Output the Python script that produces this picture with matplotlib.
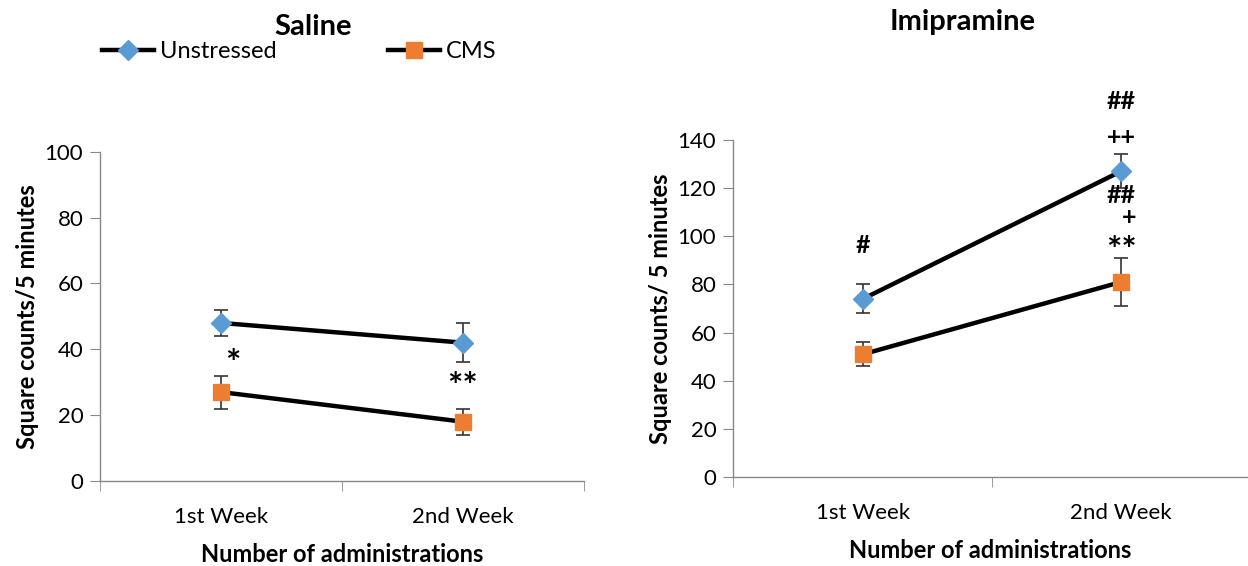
import matplotlib
matplotlib.use('Agg')
import matplotlib.pyplot as plt
from matplotlib.lines import Line2D

plt.rcParams['font.family'] = ['Lato', 'DejaVu Sans']

weeks = ['1st Week', '2nd Week']

# Saline panel
sal_unstressed = [48, 42]
sal_unstressed_err = [4, 6]
sal_cms = [27, 18]
sal_cms_err = [5, 4]

# Imipramine panel
imi_unstressed = [74, 127]
imi_unstressed_err = [6, 7]
imi_cms = [51, 81]
imi_cms_err = [5, 10]

# significance marks: (x index, y value, text)
sal_marks = [(0.05, 35.5, '*'), (1.0, 28.5, '**')]
imi_marks = [(0.0, 96, '#'), (1.0, 156, '##'), (1.0, 141, '++'),
             (1.0, 117, '##'), (1.03, 108, '+'), (1.0, 93.5, '**')]

blue = '#5B9BD5'
orange = '#ED7D31'
grey = '#898989'

fig = plt.figure(figsize=(12.48, 5.66), dpi=100)
ax1 = fig.add_axes([0.0801, 0.1502, 0.3878, 0.5818])
ax2 = fig.add_axes([0.5873, 0.1572, 0.4127, 0.5955])


def draw_panel(ax, unstr, unstr_err, cms, cms_err, marks, ymax, xlim, ylabel):
    x = list(range(len(weeks)))
    ax.errorbar(x, unstr, yerr=unstr_err, color='black', lw=3.2,
                ecolor='#333333', elinewidth=1.2, capsize=5, capthick=1.2,
                marker='D', ms=10, mfc=blue, mec=blue, zorder=3)
    ax.errorbar(x, cms, yerr=cms_err, color='black', lw=3.2,
                ecolor='#333333', elinewidth=1.2, capsize=5, capthick=1.2,
                marker='s', ms=11, mfc=orange, mec=orange, zorder=3)
    for mx, my, txt in marks:
        size = 26 if '*' in txt else 18
        ax.text(mx, my, txt, ha='center', va='center', fontsize=size,
                fontweight='bold', clip_on=False)
    ax.set_xlim(*xlim)
    ax.set_ylim(0, ymax)
    ax.set_yticks(range(0, ymax + 1, 20))
    ax.set_xticks(x)
    ax.set_xticklabels(weeks)
    ax.set_xticks([xlim[0], 0.5, xlim[1]], minor=True)
    ax.tick_params(axis='x', which='major', length=0, labelsize=16, pad=19)
    ax.tick_params(axis='x', which='minor', length=7, color=grey, direction='out')
    ax.tick_params(axis='y', length=7, color=grey, labelsize=16, pad=5)
    for s in ['top', 'right']:
        ax.spines[s].set_visible(False)
    for s in ['left', 'bottom']:
        ax.spines[s].set_color(grey)
        ax.spines[s].set_linewidth(1.0)
    ax.set_ylabel(ylabel, fontsize=17, fontweight='bold', labelpad=4)
    ax.set_xlabel('Number of administrations', fontsize=17,
                  fontweight='bold', labelpad=11)


draw_panel(ax1, sal_unstressed, sal_unstressed_err, sal_cms, sal_cms_err,
           sal_marks, 100, (-0.5, 1.5), 'Square counts/5 minutes')
draw_panel(ax2, imi_unstressed, imi_unstressed_err, imi_cms, imi_cms_err,
           imi_marks, 140, (-0.504, 1.492), 'Square counts/ 5 minutes')

fig.text(313 / 1248, 1 - 27 / 566, 'Saline', ha='center', va='center',
         fontsize=21, fontweight='bold')
fig.text(963 / 1248, 1 - 22 / 566, 'Imipramine', ha='center', va='center',
         fontsize=21, fontweight='bold')

handles = [
    Line2D([], [], color='black', lw=3.2, marker='D', ms=10, mfc=blue, mec=blue),
    Line2D([], [], color='black', lw=3.2, marker='s', ms=11, mfc=orange, mec=orange),
]
fig.legend(handles, ['Unstressed', 'CMS'], loc='center left',
           bbox_to_anchor=(0.082, 1 - 52 / 566), ncol=2, frameon=False,
           fontsize=17, handlelength=2.2, handletextpad=0.25,
           columnspacing=4.7, borderaxespad=0, borderpad=0)

fig.savefig('out.png', dpi=100)
